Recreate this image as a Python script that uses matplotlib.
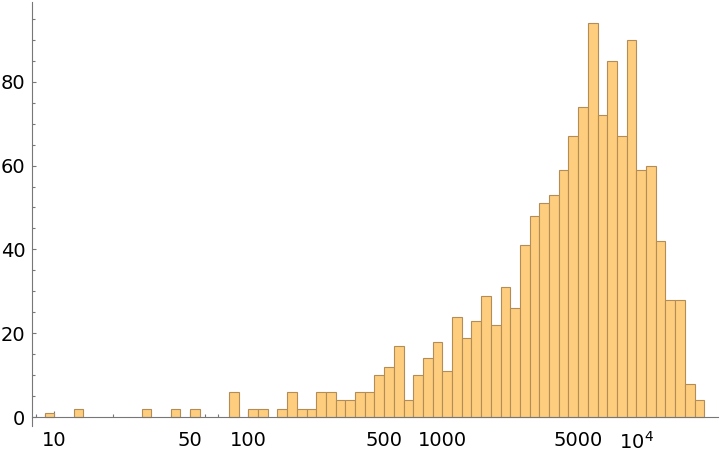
import numpy as np
import matplotlib
matplotlib.use("Agg")
import matplotlib.pyplot as plt
from matplotlib.ticker import FixedLocator, FixedFormatter

plt.rcParams['font.family'] = ['DejaVu Sans']
plt.rcParams['mathtext.fontset'] = 'dejavusans'

# Histogram data: bins are 0.05 wide in log10(x); bin k spans 10**(k*0.05) .. 10**((k+1)*0.05)
bin_width_log10 = 0.05
bin_index = list(range(19, 87))
counts = [1, 0, 0, 2, 0, 0, 0, 0, 0, 0, 2, 0, 0, 2, 0, 2, 0, 0, 0, 6,
          0, 2, 2, 0, 2, 6, 2, 2, 6, 6, 4, 4, 6, 6, 10, 12, 17, 4, 10, 14,
          18, 11, 24, 19, 23, 29, 22, 31, 26, 41, 48, 51, 53, 59, 67, 74, 94, 72, 85, 67,
          90, 59, 60, 42, 28, 28, 8, 4]

x_major = [10, 50, 100, 500, 1000, 5000, 10000]
x_major_labels = ["10", "50", "100", "500", "1000", "5000", r"$10^4$"]
y_major = [0, 20, 40, 60, 80]

fig = plt.figure(figsize=(7.2, 4.54), dpi=100)
ax = fig.add_axes([31.7/720, 28/454, (718-31.7)/720, (452-28)/454])

idx = np.array(bin_index)
lefts = 10 ** (idx * bin_width_log10)
rights = 10 ** ((idx + 1) * bin_width_log10)
c = np.array(counts)
mask = c > 0
ax.bar(lefts[mask], c[mask], width=(rights - lefts)[mask], align='edge',
       color='#FECE7E', edgecolor='#B38D55', linewidth=0.8, zorder=2)

ax.set_xscale('log')
ax.set_xlim(10 ** 0.8835, 10 ** 4.4211)
ax.set_ylim(-2.1, 99.0)

for s in ['top', 'right']:
    ax.spines[s].set_visible(False)
ax.spines['bottom'].set_position(('data', 0))
ax.spines['bottom'].set_color('#777777')
ax.spines['left'].set_color('#777777')
ax.spines['bottom'].set_zorder(3)

ax.xaxis.set_major_locator(FixedLocator(x_major))
ax.xaxis.set_major_formatter(FixedFormatter(x_major_labels))
minors = [m * 10 ** e for e in range(0, 5) for m in range(1, 10)]
minors = [v for v in minors if v not in x_major]
ax.xaxis.set_minor_locator(FixedLocator(minors))
ax.xaxis.set_minor_formatter(FixedFormatter([""] * len(minors)))

ax.yaxis.set_major_locator(FixedLocator(y_major))
ax.yaxis.set_minor_locator(FixedLocator([v for v in range(5, 100, 5) if v % 20 != 0]))

ax.tick_params(axis='x', which='major', direction='in', length=4.5, width=0.8,
               color='#777777', labelsize=14, pad=10)
ax.tick_params(axis='x', which='minor', direction='in', length=2.5, width=0.8,
               color='#777777')
ax.tick_params(axis='y', which='major', direction='in', length=3.2, width=0.8,
               color='#777777', labelsize=14, pad=4.5)
ax.tick_params(axis='y', which='minor', direction='in', length=1.8, width=0.8,
               color='#777777')
ax.set_axisbelow(True)

fig.savefig('out.png', dpi=100)
